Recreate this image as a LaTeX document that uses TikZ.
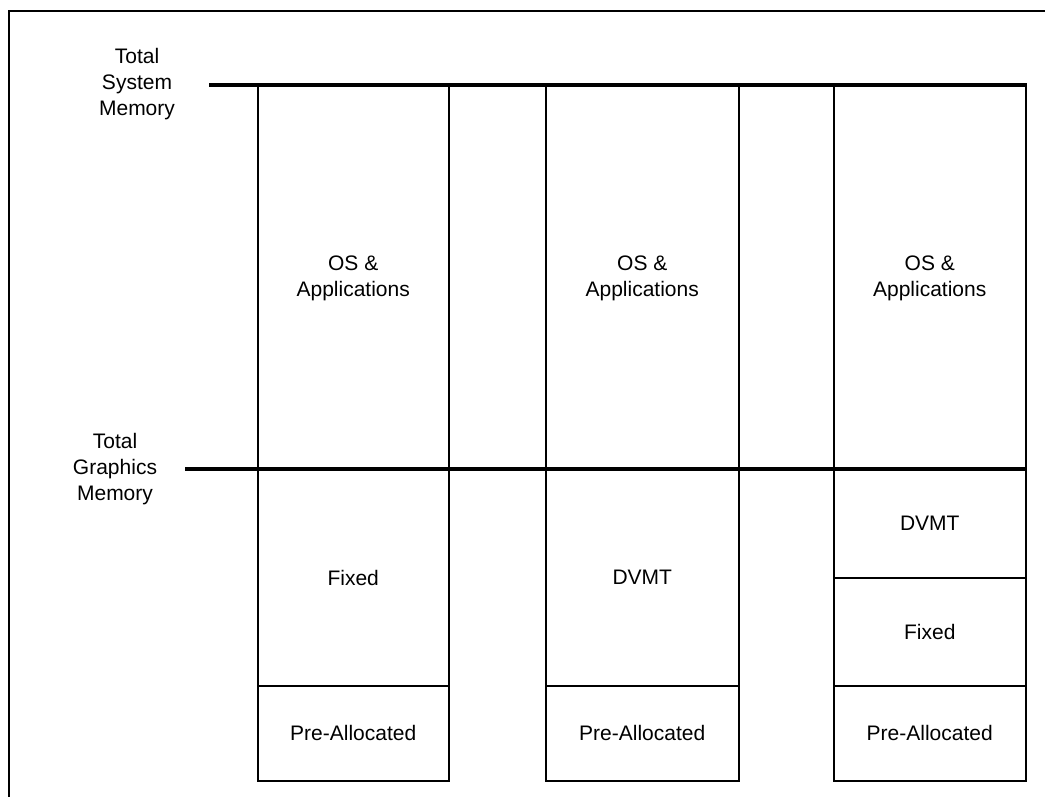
\documentclass[tikz,border=0pt]{standalone}
\usepackage{fontspec}
\setmainfont{Liberation Sans}
\begin{document}
\begin{tikzpicture}[x=1pt,y=-1pt,
  seg/.style={draw,line width=1.5pt,inner sep=0pt,anchor=north west},
  lbl/.style={align=center,font=\fontsize{21}{26}\selectfont},
  level/.style={line width=3.2pt},
  frame/.style={line width=2pt}]
\useasboundingbox (0,0) rectangle (1045,796);
\draw[frame] (9,797) -- (9,11) -- (1046,11);
% column 1
\node[seg,minimum width=191pt,minimum height=384pt] (osa) at (257,85) {};
\node[seg,minimum width=191pt,minimum height=216pt] (fixa) at (257,469) {};
\node[seg,minimum width=191pt,minimum height=95pt] (prea) at (257,685) {};
% column 2
\node[seg,minimum width=193pt,minimum height=384pt] (osb) at (545,85) {};
\node[seg,minimum width=193pt,minimum height=216pt] (dvb) at (545,469) {};
\node[seg,minimum width=193pt,minimum height=95pt] (preb) at (545,685) {};
% column 3
\node[seg,minimum width=192pt,minimum height=384pt] (osc) at (833,85) {};
\node[seg,minimum width=192pt,minimum height=108pt] (dvc) at (833,469) {};
\node[seg,minimum width=192pt,minimum height=108pt] (fixc) at (833,577) {};
\node[seg,minimum width=192pt,minimum height=95pt] (prec) at (833,685) {};
% labels
\node[lbl] at ([yshift=-1pt]osa.center) {OS \&\\Applications};
\node[lbl] at ([yshift=-1pt]osb.center) {OS \&\\Applications};
\node[lbl] at ([yshift=-1pt]osc.center) {OS \&\\Applications};
\node[lbl] at (fixa.center) {Fixed};
\node[lbl] at (dvb.center) {DVMT};
\node[lbl] at (dvc.center) {DVMT};
\node[lbl] at (fixc.center) {Fixed};
\node[lbl] at (prea.center) {Pre-Allocated};
\node[lbl] at (preb.center) {Pre-Allocated};
\node[lbl] at (prec.center) {Pre-Allocated};
% levels
\node[lbl] (sys) at (137,84) {Total\\System\\Memory};
\node[lbl] (gfx) at (115,469) {Total\\Graphics\\Memory};
\coordinate (sysL) at (209,85);
\coordinate (gfxL) at (185,469);
\draw[level] (sysL) -- (osc.north east);
\draw[level] (gfxL) -- (dvc.north east);
\end{tikzpicture}
\end{document}
